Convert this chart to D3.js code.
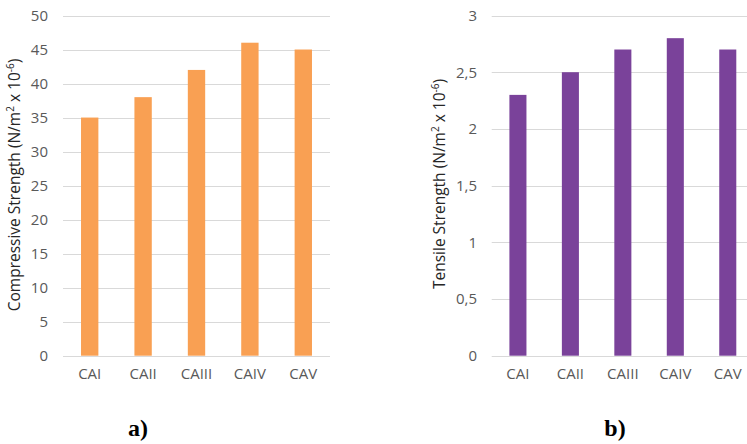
<!DOCTYPE html>
<html><head><meta charset="utf-8">
<script src="https://cdn.jsdelivr.net/npm/d3@7"></script>
<style>body{margin:0;background:#fff}svg{display:block}</style>
</head><body>
<svg id="c" width="747" height="444"></svg>
<script>
const categories = ["CAI","CAII","CAIII","CAIV","CAV"];
const compressive = [35, 38, 42, 46, 45];
const tensile = [2.3, 2.5, 2.7, 2.8, 2.7];
const ticksA = [0,5,10,15,20,25,30,35,40,45,50];
const ticksB = [0,0.5,1,1.5,2,2.5,3];

const svg = d3.select("#c");
const font = "'Open Sans', sans-serif";

function panel(cfg){
  const g = svg.append("g");
  const x = d3.scaleBand().domain(categories).range([cfg.x0, cfg.x1]).paddingInner(0.675).paddingOuter(0.3375);
  const y = d3.scaleLinear().domain([0, cfg.max]).range([cfg.yb, cfg.yt]);
  g.append("g").selectAll("line").data(cfg.ticks).join("line")
    .attr("x1", cfg.x0).attr("x2", cfg.gx1)
    .attr("y1", d=>Math.round(y(d))+0.5).attr("y2", d=>Math.round(y(d))+0.5)
    .attr("stroke", "#d9d9d9").attr("stroke-width", 1.2);
  const ya = d3.axisLeft(y).tickValues(cfg.ticks).tickSize(0).tickPadding(0)
    .tickFormat(d => String(d).replace(".", ","));
  const yg = g.append("g").attr("transform", `translate(${cfg.labelX},0)`).call(ya);
  yg.select(".domain").remove();
  yg.selectAll("text").attr("font-family", font).attr("font-size", 15).attr("fill", "#595959");
  g.append("g").selectAll("rect").data(cfg.values).join("rect")
    .attr("x", (d,i)=>x(categories[i])).attr("width", x.bandwidth())
    .attr("y", d=>y(d)).attr("height", d=>y(0)-y(d))
    .attr("fill", cfg.color);
  const xa = d3.axisBottom(x).tickSize(0).tickPadding(0);
  const xg = g.append("g").attr("transform", `translate(0,${cfg.yb + 13})`).call(xa);
  xg.select(".domain").remove();
  xg.selectAll("text").attr("font-family", font).attr("font-size", 15).attr("fill", "#595959");
  const t = g.append("text")
    .attr("transform", `translate(${cfg.titleX},${cfg.titleY}) rotate(-90)`)
    .attr("text-anchor", "middle").attr("font-family", font).attr("font-size", 15.5).attr("fill", "#262626");
  t.append("tspan").text(cfg.title + " (N/m");
  t.append("tspan").text("2").attr("font-size", 10).attr("dy", -6);
  t.append("tspan").text(" x 10").attr("dy", 6);
  t.append("tspan").text("-6").attr("font-size", 10).attr("dy", -6);
  t.append("tspan").text(")").attr("dy", 6);
  svg.append("text").attr("x", cfg.labelLX).attr("y", 436).attr("text-anchor", "middle")
    .attr("font-family", "'Liberation Serif', 'Times New Roman', serif").attr("font-weight", "bold")
    .attr("font-size", 24).attr("fill", "#000").text(cfg.panel);
}

panel({x0:63, x1:330, gx1:330, yb:355.7, yt:15.5, max:50, ticks:ticksA, values:compressive,
  color:"#F9A053", labelX:48, titleX:20, titleY:185, title:"Compressive Strength", labelLX:138, panel:"a)"});
panel({x0:491.7, x1:754, gx1:747, yb:355.7, yt:15.5, max:3, ticks:ticksB, values:tensile,
  color:"#7A429A", labelX:477, titleX:445, titleY:184, title:"Tensile Strength", labelLX:615, panel:"b)"});
</script>
</body></html>
